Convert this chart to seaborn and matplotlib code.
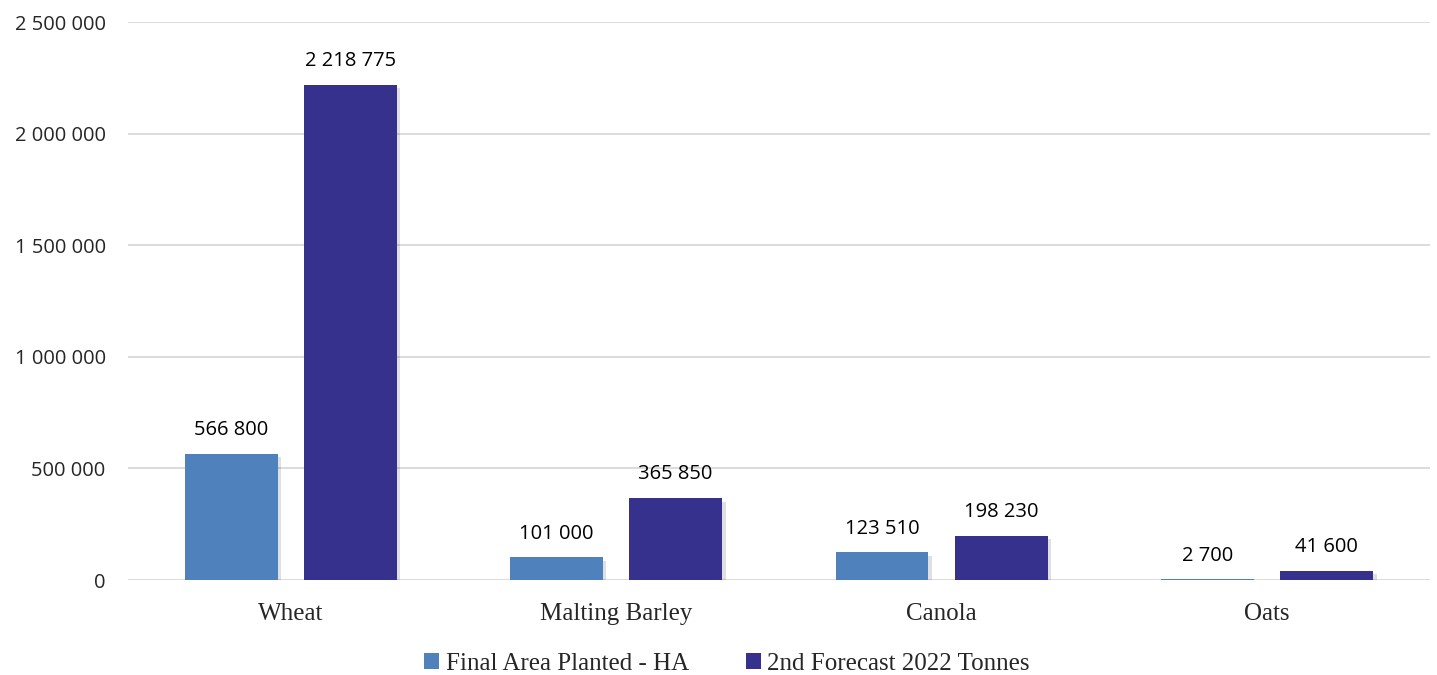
import matplotlib
matplotlib.use("Agg")
import matplotlib.pyplot as plt
import matplotlib.patheffects as pe
from matplotlib.patches import Patch
import seaborn as sns
import pandas as pd

categories = ["Wheat", "Malting Barley", "Canola", "Oats"]
series_names = ["Final Area Planted - HA", "2nd Forecast 2022 Tonnes"]
area_ha = [566800, 101000, 123510, 2700]
forecast_t = [2218775, 365850, 198230, 41600]
yticks = [0, 500000, 1000000, 1500000, 2000000, 2500000]
colors = ["#4F81BD", "#35318D"]

def fmt(v):
    return f"{int(v):,}".replace(",", " ")

df = pd.DataFrame({
    "crop": categories * 2,
    "series": [series_names[0]] * 4 + [series_names[1]] * 4,
    "value": area_ha + forecast_t,
})

sns.set_theme(style="white")
plt.rcParams["font.family"] = ["Liberation Sans", "DejaVu Sans"]

fig = plt.figure(figsize=(14.37, 6.75), dpi=100)
ax = fig.add_axes([0.089, 0.1407, 0.906, 0.8266])

sns.barplot(data=df, x="crop", y="value", hue="series", order=categories,
            hue_order=series_names, palette=colors, width=0.732, gap=0.22,
            saturation=1, ax=ax, legend=False, linewidth=0)

for p in ax.patches:
    p.set_path_effects([pe.SimplePatchShadow(offset=(2.5, -2.5), shadow_rgbFace="#000000", alpha=0.12), pe.Normal()])

for cont in ax.containers:
    ax.bar_label(cont, labels=[fmt(v) for v in cont.datavalues], padding=10,
                 fontsize=14.5, color="#000000", family=["Open Sans", "DejaVu Sans"])

ax.set_xlim(-0.5, 3.5)
ax.set_ylim(0, 2500000)
ax.set_yticks(yticks)
ax.set_yticklabels([fmt(v) for v in yticks], fontsize=14.5, family=["Open Sans", "DejaVu Sans"])
ax.tick_params(axis="y", length=0, pad=16)
ax.tick_params(axis="x", length=0, pad=16.5)
for lbl in ax.get_xticklabels():
    lbl.set_fontsize(18)
    lbl.set_family(["Liberation Serif", "DejaVu Serif"])
ax.set_xlabel("")
ax.set_ylabel("")
ax.yaxis.grid(True, color="#D9D9D9", linewidth=1.3)
ax.set_axisbelow(True)
for s in ax.spines.values():
    s.set_visible(False)
for lbl in ax.get_yticklabels():
    lbl.set_horizontalalignment("right")

handles = [Patch(facecolor=c, edgecolor="none") for c in colors]
fig.legend(handles, series_names, loc="center", bbox_to_anchor=(0.506, 0.016),
           ncol=2, frameon=False, handlelength=0.6, handleheight=0.6,
           handletextpad=0.25, columnspacing=2.3,
           prop={"family": ["Liberation Serif", "DejaVu Serif"], "size": 18})

fig.savefig("out.png", dpi=100)
